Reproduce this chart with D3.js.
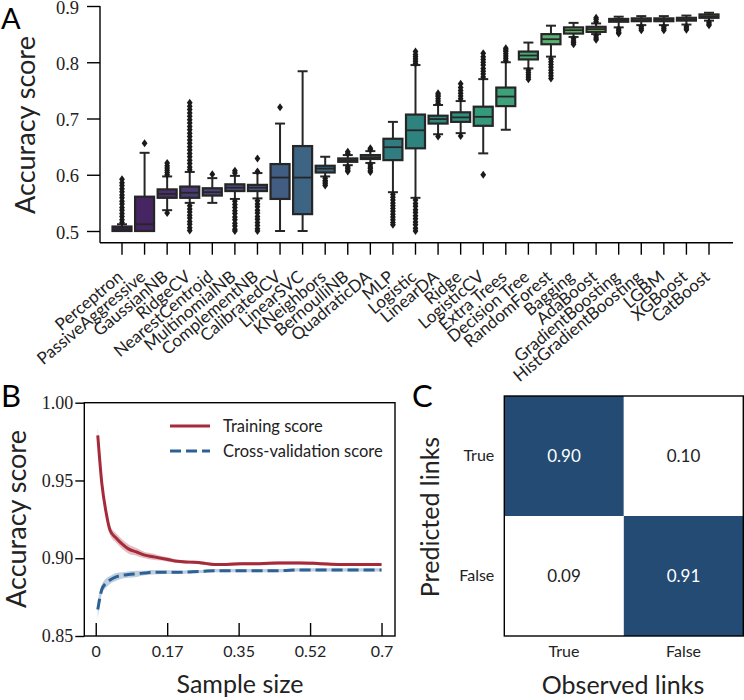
<!DOCTYPE html>
<html>
<head>
<meta charset="utf-8">
<script src="https://cdnjs.cloudflare.com/ajax/libs/d3/7.8.5/d3.min.js"></script>
<style>
  body { margin: 0; background: #fff; }
  svg { display: block; }
  .sans { font-family: Lato, "DejaVu Sans", sans-serif; }
  .serif { font-family: "Liberation Serif", "DejaVu Serif", serif; }
</style>
</head>
<body>
<svg id="fig" width="744" height="700"></svg>
<script>
// ---- panel A: accuracy score per classifier ----
var models = ["Perceptron", "PassiveAggressive", "GaussianNB", "RidgeCV", "NearestCentroid",
  "MultinomialNB", "ComplementNB", "CalibratedCV", "LinearSVC", "KNeighbors", "BernoulliNB",
  "QuadraticDA", "MLP", "Logistic", "LinearDA", "Ridge", "LogisticCV", "Extra Trees",
  "Decision Tree", "RandomForest", "Bagging", "AdaBoost", "GradientBoosting",
  "HistGradientBoosting", "LGBM", "XGBoost", "CatBoost"];
var q1 =     [0.500, 0.500, 0.559, 0.559, 0.563, 0.571, 0.571, 0.557, 0.530, 0.604, 0.623, 0.628, 0.626, 0.647, 0.691, 0.694, 0.687, 0.722, 0.805, 0.832, 0.851, 0.854, 0.872, 0.873, 0.873, 0.874, 0.879];
var median = [0.503, 0.512, 0.566, 0.568, 0.569, 0.577, 0.577, 0.595, 0.595, 0.611, 0.626, 0.631, 0.649, 0.679, 0.699, 0.702, 0.703, 0.739, 0.812, 0.841, 0.857, 0.859, 0.874, 0.875, 0.876, 0.876, 0.882];
var q3 =     [0.508, 0.561, 0.574, 0.579, 0.576, 0.583, 0.582, 0.619, 0.651, 0.616, 0.629, 0.635, 0.664, 0.707, 0.705, 0.711, 0.721, 0.755, 0.819, 0.850, 0.862, 0.863, 0.877, 0.878, 0.878, 0.879, 0.885];
var whiskerLow =  [0.500, 0.500, 0.537, 0.550, 0.550, 0.557, 0.558, 0.500, 0.500, 0.597, 0.617, 0.621, 0.569, 0.559, 0.672, 0.674, 0.638, 0.680, 0.789, 0.810, 0.845, 0.850, 0.862, 0.866, 0.866, 0.867, 0.874];
var whiskerHigh = [0.512, 0.639, 0.597, 0.605, 0.594, 0.598, 0.603, 0.691, 0.784, 0.632, 0.635, 0.642, 0.694, 0.795, 0.724, 0.731, 0.770, 0.800, 0.835, 0.865, 0.870, 0.869, 0.881, 0.882, 0.882, 0.883, 0.888];
var fliers = [
  [0.515, 0.520, 0.526, 0.531, 0.537, 0.542, 0.548, 0.553, 0.559, 0.564, 0.570, 0.575, 0.581, 0.586, 0.592],
  [0.656],
  [0.600, 0.604, 0.608, 0.612, 0.616, 0.621, 0.532],
  [0.609, 0.614, 0.620, 0.626, 0.632, 0.638, 0.644, 0.650, 0.656, 0.662, 0.668, 0.674, 0.680, 0.686, 0.692, 0.698, 0.704, 0.710, 0.716, 0.722, 0.728,
   0.545, 0.539, 0.534, 0.528, 0.523, 0.517, 0.512, 0.506, 0.501],
  [0.601],
  [0.603, 0.607, 0.553, 0.547, 0.542, 0.536, 0.531, 0.525, 0.520, 0.514, 0.509, 0.503, 0.500],
  [0.606, 0.629, 0.554, 0.548, 0.543, 0.537, 0.532, 0.526, 0.521, 0.515, 0.510, 0.504, 0.500],
  [0.720],
  [],
  [0.594, 0.590, 0.587, 0.584, 0.581],
  [0.638, 0.641, 0.614, 0.611, 0.608, 0.606],
  [0.645, 0.647, 0.618, 0.614, 0.611, 0.607, 0.605],
  [0.565, 0.560, 0.555, 0.550, 0.545, 0.540, 0.535, 0.530, 0.525, 0.520, 0.515, 0.511],
  [0.798, 0.802, 0.806, 0.810, 0.814, 0.819, 0.555, 0.549, 0.544, 0.538, 0.533, 0.527, 0.522, 0.516, 0.511, 0.505, 0.500],
  [0.727, 0.731, 0.735, 0.739, 0.742, 0.745, 0.668],
  [0.735, 0.740, 0.745, 0.750, 0.755, 0.762, 0.669],
  [0.774, 0.779, 0.784, 0.789, 0.795, 0.800, 0.805, 0.810, 0.816, 0.600],
  [0.803, 0.807, 0.811, 0.815, 0.819, 0.822, 0.825],
  [0.786, 0.782, 0.778, 0.774, 0.770],
  [0.806, 0.801, 0.796, 0.791, 0.786, 0.781, 0.776, 0.771],
  [0.842, 0.838, 0.835, 0.832],
  [0.872, 0.876, 0.879, 0.847, 0.843, 0.840],
  [0.859, 0.856, 0.853, 0.851],
  [0.863, 0.860, 0.857],
  [0.863, 0.860, 0.857],
  [0.864, 0.861, 0.858],
  [0.871, 0.868, 0.866]
];
var yTicksA = [0.5, 0.6, 0.7, 0.8, 0.9];

// ---- panel B: learning curve ----
var sampleSize = [0.005, 0.015, 0.025, 0.035, 0.05, 0.065, 0.08, 0.10, 0.12, 0.14, 0.16, 0.18, 0.20, 0.23, 0.26, 0.29, 0.32, 0.36, 0.40, 0.45, 0.50, 0.55, 0.60, 0.65, 0.70];
var trainMean = [0.979, 0.948, 0.930, 0.918, 0.913, 0.909, 0.906, 0.904, 0.902, 0.901, 0.900, 0.899, 0.898, 0.8975, 0.897, 0.896, 0.896, 0.8965, 0.8965, 0.897, 0.897, 0.8965, 0.896, 0.896, 0.896];
var trainStd =  [0.005, 0.004, 0.003, 0.003, 0.003, 0.003, 0.003, 0.0025, 0.002, 0.002, 0.0015, 0.0015, 0.001, 0.001, 0.001, 0.001, 0.001, 0.001, 0.001, 0.001, 0.001, 0.001, 0.0008, 0.0008, 0.0008];
var cvMean =    [0.867, 0.880, 0.884, 0.886, 0.888, 0.889, 0.8895, 0.890, 0.8905, 0.891, 0.891, 0.891, 0.891, 0.8912, 0.8915, 0.892, 0.892, 0.892, 0.892, 0.892, 0.8925, 0.8925, 0.8925, 0.8925, 0.8925];
var cvStd =     [0.006, 0.003, 0.003, 0.0025, 0.0025, 0.002, 0.002, 0.002, 0.0015, 0.0015, 0.0012, 0.0012, 0.001, 0.001, 0.001, 0.001, 0.001, 0.001, 0.001, 0.001, 0.001, 0.001, 0.001, 0.001, 0.001];
var xTicksB = [0, 0.175, 0.35, 0.525, 0.7];
var xTickLabelsB = ["0", "0.17", "0.35", "0.52", "0.7"];
var yTicksB = [0.85, 0.90, 0.95, 1.00];

// ---- panel C: confusion matrix ----
var linkLabels = ["True", "False"];
var confusion = [[0.90, 0.10], [0.09, 0.91]];

var svg = d3.select("#fig");
var ink = "#262626";

// ================= A =================
var gA = svg.append("g");
var yA = d3.scaleLinear().domain([0.5, 0.9]).range([231, 6]);
var xA = d3.scalePoint().domain(models).range([122, 709]);
var boxW = 19, capW = 10, baseA = 242.7;

var palette = models.map(function(d, i) {
  var c = d3.hsl(d3.interpolateViridis((i + 1) / (models.length + 1)));
  c.s *= 0.75;
  return c.formatHex();
});

gA.append("g")
  .attr("class", "serif")
  .attr("transform", "translate(100,0)")
  .call(d3.axisLeft(yA).tickValues(yTicksA).tickSize(13).tickPadding(8).tickFormat(d3.format(".1f")))
  .call(function(g) { g.select(".domain").remove(); })
  .call(function(g) { g.selectAll("line").attr("stroke", "#000").attr("stroke-width", 1.4); })
  .call(function(g) { g.selectAll("text").attr("font-size", 18.5).attr("dy", "0.38em").attr("fill", "#222"); });

gA.append("line").attr("x1", 100).attr("x2", 100).attr("y1", yA(0.9)).attr("y2", baseA)
  .attr("stroke", "#000").attr("stroke-width", 1.4);
gA.append("line").attr("x1", 100).attr("x2", 733).attr("y1", baseA).attr("y2", baseA)
  .attr("stroke", "#000").attr("stroke-width", 1.4);

var ticksA = gA.selectAll(".xt").data(models).enter().append("g")
  .attr("transform", function(d) { return "translate(" + xA(d) + "," + baseA + ")"; });
ticksA.append("line").attr("y1", 0).attr("y2", 12).attr("stroke", "#000").attr("stroke-width", 1.4);
ticksA.append("text")
  .attr("class", "sans")
  .attr("font-size", 17)
  .attr("fill", "#222")
  .attr("text-anchor", "end")
  .attr("transform", "translate(2,36) rotate(-40)")
  .text(function(d) { return d; });

var diamond = "M0,-4L2.9,0L0,4L-2.9,0Z";
var boxes = gA.selectAll(".box").data(models).enter().append("g")
  .attr("transform", function(d) { return "translate(" + xA(d) + ",0)"; });

boxes.append("line").attr("y1", function(d, i) { return yA(q3[i]); })
  .attr("y2", function(d, i) { return yA(whiskerHigh[i]); })
  .attr("stroke", ink).attr("stroke-width", 2);
boxes.append("line").attr("y1", function(d, i) { return yA(q1[i]); })
  .attr("y2", function(d, i) { return yA(whiskerLow[i]); })
  .attr("stroke", ink).attr("stroke-width", 2);
boxes.append("line").attr("x1", -capW / 2).attr("x2", capW / 2)
  .attr("y1", function(d, i) { return yA(whiskerHigh[i]); })
  .attr("y2", function(d, i) { return yA(whiskerHigh[i]); })
  .attr("stroke", ink).attr("stroke-width", 2);
boxes.append("line").attr("x1", -capW / 2).attr("x2", capW / 2)
  .attr("y1", function(d, i) { return yA(whiskerLow[i]); })
  .attr("y2", function(d, i) { return yA(whiskerLow[i]); })
  .attr("stroke", ink).attr("stroke-width", 2);
boxes.append("rect")
  .attr("x", -boxW / 2).attr("width", boxW)
  .attr("y", function(d, i) { return yA(q3[i]); })
  .attr("height", function(d, i) { return Math.max(yA(q1[i]) - yA(q3[i]), 1); })
  .attr("fill", function(d, i) { return palette[i]; })
  .attr("stroke", ink).attr("stroke-width", 2.2);
boxes.append("line").attr("x1", -boxW / 2).attr("x2", boxW / 2)
  .attr("y1", function(d, i) { return yA(median[i]); })
  .attr("y2", function(d, i) { return yA(median[i]); })
  .attr("stroke", ink).attr("stroke-width", 1.8);
boxes.each(function(d, i) {
  d3.select(this).selectAll("path").data(fliers[i]).enter().append("path")
    .attr("d", diamond)
    .attr("transform", function(v) { return "translate(0," + yA(v) + ")"; })
    .attr("fill", "#1a1a1a");
});

gA.append("text").attr("class", "sans").attr("font-size", 27).attr("fill", "#222")
  .attr("text-anchor", "middle")
  .attr("transform", "translate(35,125) rotate(-90)")
  .text("Accuracy score");
gA.append("text").attr("class", "sans").attr("font-size", 29).attr("x", 1).attr("y", 29).text("A");

// ================= B =================
var gB = svg.append("g");
var xB = d3.scaleLinear().domain([-0.028, 0.733]).range([84.3, 395]);
var yB = d3.scaleLinear().domain([0.85, 1.0]).range([636, 402.7]);

var ptsTrain = sampleSize.map(function(s, i) { return [s, trainMean[i], trainStd[i]]; });
var ptsCv = sampleSize.map(function(s, i) { return [s, cvMean[i], cvStd[i]]; });
var band = d3.area().curve(d3.curveMonotoneX)
  .x(function(d) { return xB(d[0]); })
  .y0(function(d) { return yB(d[1] - d[2]); })
  .y1(function(d) { return yB(d[1] + d[2]); });
var line = d3.line().curve(d3.curveMonotoneX)
  .x(function(d) { return xB(d[0]); })
  .y(function(d) { return yB(d[1]); });

var red = "#a62b3a", blue = "#2c6195";
gB.append("path").datum(ptsTrain).attr("d", band).attr("fill", red).attr("fill-opacity", 0.3);
gB.append("path").datum(ptsCv).attr("d", band).attr("fill", blue).attr("fill-opacity", 0.3);
gB.append("path").datum(ptsTrain).attr("d", line).attr("fill", "none")
  .attr("stroke", red).attr("stroke-width", 3);
gB.append("path").datum(ptsCv).attr("d", line).attr("fill", "none")
  .attr("stroke", blue).attr("stroke-width", 3).attr("stroke-dasharray", "11,5");

gB.append("g").attr("class", "serif")
  .attr("transform", "translate(84.3,0)")
  .call(d3.axisLeft(yB).tickValues(yTicksB).tickSize(9).tickPadding(2).tickFormat(d3.format(".2f")))
  .call(function(g) { g.select(".domain").remove(); })
  .call(function(g) { g.selectAll("line").attr("stroke", "#000").attr("stroke-width", 1.4); })
  .call(function(g) { g.selectAll("text").attr("font-size", 18).attr("fill", "#222"); });

gB.append("g").attr("class", "sans")
  .attr("transform", "translate(0,636)")
  .call(d3.axisBottom(xB).tickValues(xTicksB).tickSizeInner(-13).tickSizeOuter(0).tickPadding(10)
    .tickFormat(function(d, i) { return xTickLabelsB[i]; }))
  .call(function(g) { g.select(".domain").remove(); })
  .call(function(g) { g.selectAll("line").attr("stroke", "#000").attr("stroke-width", 1.4); })
  .call(function(g) { g.selectAll("text").attr("font-size", 16).attr("fill", "#222"); });

gB.append("rect").attr("x", 84.3).attr("y", 402.7).attr("width", 395 - 84.3).attr("height", 636 - 402.7)
  .attr("fill", "none").attr("stroke", "#000").attr("stroke-width", 1.4);

var legend = gB.append("g").attr("class", "sans");
legend.append("line").attr("x1", 170).attr("x2", 210).attr("y1", 426).attr("y2", 426)
  .attr("stroke", red).attr("stroke-width", 3);
legend.append("line").attr("x1", 170).attr("x2", 210).attr("y1", 451).attr("y2", 451)
  .attr("stroke", blue).attr("stroke-width", 3).attr("stroke-dasharray", "11,5");
legend.append("text").attr("x", 223).attr("y", 426).attr("dy", "0.35em").attr("font-size", 16.5)
  .attr("fill", "#222").text("Training score");
legend.append("text").attr("x", 223).attr("y", 451).attr("dy", "0.35em").attr("font-size", 16.5)
  .attr("fill", "#222").text("Cross-validation score");

gB.append("text").attr("class", "sans").attr("font-size", 27).attr("fill", "#222")
  .attr("text-anchor", "middle")
  .attr("transform", "translate(26,519) rotate(-90)")
  .text("Accuracy score");
gB.append("text").attr("class", "sans").attr("font-size", 25).attr("fill", "#222")
  .attr("text-anchor", "middle").attr("x", 240).attr("y", 693)
  .text("Sample size");
gB.append("text").attr("class", "sans").attr("font-size", 31).attr("x", 1).attr("y", 407).text("B");

// ================= C =================
var gC = svg.append("g");
var xC = d3.scaleBand().domain(linkLabels).range([504.3, 743.3]);
var yC = d3.scaleBand().domain(linkLabels).range([396, 636]);
var colorC = d3.scaleThreshold().domain([0.5]).range(["#ffffff", "#234b74"]);

var cells = [];
confusion.forEach(function(row, r) {
  row.forEach(function(v, c) { cells.push({ pred: linkLabels[r], obs: linkLabels[c], v: v }); });
});
gC.selectAll("rect.cell").data(cells).enter().append("rect")
  .attr("x", function(d) { return xC(d.obs); })
  .attr("y", function(d) { return yC(d.pred); })
  .attr("width", xC.bandwidth()).attr("height", yC.bandwidth())
  .attr("fill", function(d) { return colorC(d.v); });
gC.selectAll("text.val").data(cells).enter().append("text")
  .attr("class", "sans")
  .attr("x", function(d) { return xC(d.obs) + xC.bandwidth() / 2; })
  .attr("y", function(d) { return yC(d.pred) + yC.bandwidth() / 2; })
  .attr("dy", "0.35em").attr("text-anchor", "middle").attr("font-size", 17)
  .attr("fill", function(d) { return d.v > 0.5 ? "#fff" : "#222"; })
  .text(function(d) { return d3.format(".2f")(d.v); });
gC.append("rect").attr("x", 504.3).attr("y", 396).attr("width", 743.3 - 504.3).attr("height", 240)
  .attr("fill", "none").attr("stroke", "#000").attr("stroke-width", 1.4);

gC.append("g").attr("class", "sans")
  .attr("transform", "translate(504.3,0)")
  .call(d3.axisLeft(yC).tickSize(0).tickPadding(10))
  .call(function(g) { g.select(".domain").remove(); })
  .call(function(g) { g.selectAll("text").attr("font-size", 16).attr("fill", "#222"); });
gC.append("g").attr("class", "sans")
  .attr("transform", "translate(0,636)")
  .call(d3.axisBottom(xC).tickSize(0).tickPadding(10))
  .call(function(g) { g.select(".domain").remove(); })
  .call(function(g) { g.selectAll("text").attr("font-size", 16).attr("fill", "#222"); });

gC.append("text").attr("class", "sans").attr("font-size", 25).attr("fill", "#222")
  .attr("text-anchor", "middle")
  .attr("transform", "translate(439,517) rotate(-90)")
  .text("Predicted links");
gC.append("text").attr("class", "sans").attr("font-size", 25).attr("fill", "#222")
  .attr("text-anchor", "middle").attr("x", 623).attr("y", 694)
  .text("Observed links");
gC.append("text").attr("class", "sans").attr("font-size", 31).attr("x", 412).attr("y", 407).text("C");
</script>
</body>
</html>
